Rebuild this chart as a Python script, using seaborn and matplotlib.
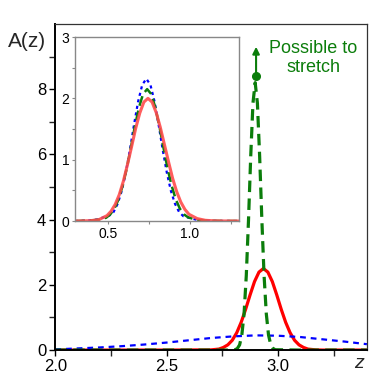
import numpy as np
import pandas as pd
import seaborn as sns
import matplotlib.pyplot as plt

# main panel data
red_x = [2.0, 2.5, 2.7, 2.735, 2.755, 2.775, 2.795, 2.815, 2.835, 2.855, 2.875, 2.895, 2.915, 2.935,
         2.955, 2.975, 2.995, 3.015, 3.035, 3.055, 3.075, 3.095, 3.115, 3.135, 3.17, 3.2, 3.4]
red_y = [0.0, 0.0, 0.006, 0.03, 0.08, 0.16, 0.30, 0.53, 0.85, 1.25, 1.69, 2.10, 2.39, 2.5,
         2.39, 2.10, 1.69, 1.25, 0.85, 0.53, 0.30, 0.16, 0.08, 0.03, 0.006, 0.0, 0.0]

green_x = [2.0, 2.7, 2.798, 2.808, 2.818, 2.828, 2.838, 2.848, 2.858, 2.868, 2.878, 2.888, 2.898,
           2.908, 2.918, 2.928, 2.938, 2.948, 2.958, 2.968, 2.978, 2.988, 3.1, 3.4]
green_y = [0.0, 0.0, 0.0, 0.01, 0.05, 0.16, 0.46, 1.11, 2.28, 3.99, 5.95, 7.57, 8.2,
           7.57, 5.95, 3.99, 2.28, 1.11, 0.46, 0.16, 0.05, 0.01, 0.0, 0.0]

blue_x = [2.0, 2.1, 2.2, 2.3, 2.4, 2.5, 2.6, 2.7, 2.8, 2.9, 3.0, 3.1, 3.2, 3.3, 3.4]
blue_y = [0.02, 0.05, 0.08, 0.12, 0.17, 0.23, 0.30, 0.37, 0.42, 0.45, 0.44, 0.40, 0.33, 0.26, 0.18]

# inset data
in_red_x = [0.3, 0.345, 0.395, 0.445, 0.495, 0.52, 0.545, 0.57, 0.595, 0.62, 0.645, 0.67, 0.695, 0.72,
            0.745, 0.77, 0.795, 0.82, 0.845, 0.87, 0.895, 0.92, 0.945, 0.97, 0.995, 1.045, 1.095,
            1.145, 1.2, 1.3]
in_red_y = [0.0, 0.002, 0.006, 0.022, 0.088, 0.16, 0.27, 0.43, 0.65, 0.92, 1.21, 1.51, 1.76, 1.94,
            2.0, 1.94, 1.77, 1.53, 1.25, 0.97, 0.70, 0.48, 0.31, 0.19, 0.11, 0.04, 0.012,
            0.004, 0.001, 0.0]

in_green_x = [0.3, 0.34, 0.39, 0.44, 0.49, 0.515, 0.54, 0.565, 0.59, 0.615, 0.64, 0.665, 0.69, 0.715,
              0.74, 0.765, 0.79, 0.815, 0.84, 0.865, 0.89, 0.915, 0.94, 0.965, 0.99, 1.04, 1.09,
              1.14, 1.2, 1.3]
in_green_y = [0.0, 0.003, 0.008, 0.02, 0.054, 0.108, 0.20, 0.35, 0.57, 0.85, 1.19, 1.54, 1.85, 2.07,
              2.15, 2.07, 1.85, 1.54, 1.19, 0.85, 0.57, 0.35, 0.20, 0.108, 0.06, 0.02, 0.008,
              0.003, 0.001, 0.0]

in_blue_x = [0.3, 0.335, 0.385, 0.435, 0.485, 0.51, 0.535, 0.56, 0.585, 0.61, 0.635, 0.66, 0.685, 0.71,
             0.735, 0.76, 0.785, 0.81, 0.835, 0.86, 0.885, 0.91, 0.935, 0.96, 0.985, 1.035, 1.085,
             1.135, 1.2, 1.3]
in_blue_y = [0.0, 0.004, 0.01, 0.025, 0.07, 0.09, 0.146, 0.28, 0.49, 0.79, 1.16, 1.57, 1.95, 2.22,
             2.32, 2.22, 1.95, 1.57, 1.16, 0.79, 0.49, 0.28, 0.146, 0.08, 0.06, 0.025, 0.01,
             0.004, 0.001, 0.0]

x_ticks = [2.0, 2.5, 3.0]
y_ticks = [0, 2, 4, 6, 8]
in_x_ticks = [0.5, 1.0]
in_y_ticks = [0, 1, 2, 3]

RED = '#ff0000'
GREEN = '#0b7d0b'
BLUE = '#0000ff'

sns.set_theme(style='ticks')
plt.rcParams['font.family'] = ['Liberation Sans', 'DejaVu Sans']

fig = plt.figure(figsize=(3.74, 3.74), dpi=100)
ax = fig.add_axes([0.148, 0.064, 0.833, 0.872])

sns.lineplot(x=red_x, y=red_y, ax=ax, color=RED, lw=2.3)
sns.lineplot(x=blue_x, y=blue_y, ax=ax, color=BLUE, lw=1.6, linestyle=(0, (2.6, 2.2)))
sns.lineplot(x=green_x, y=green_y, ax=ax, color=GREEN, lw=2.3, linestyle=(0, (3.6, 2.0)))

ax.set_xlim(2.0, 3.4)
ax.set_ylim(0, 10)
ax.set_xticks(x_ticks)
ax.set_xticklabels([f'{v:.1f}' for v in x_ticks])
ax.set_xticks([2.25, 2.75, 3.25], minor=True)
ax.set_yticks(y_ticks)
ax.set_yticks([1, 3, 5, 7, 9], minor=True)
ax.tick_params(axis='both', which='major', direction='out', length=4.5, width=1.0,
               labelsize=12, pad=2, colors='black')
ax.tick_params(axis='both', which='minor', direction='out', length=4.5, width=1.0)
ax.set_xlabel('')
ax.set_ylabel('')
for s in ['left', 'bottom']:
    ax.spines[s].set_linewidth(1.4)
    ax.spines[s].set_color('black')
for s in ['top', 'right']:
    ax.spines[s].set_linewidth(0.9)
    ax.spines[s].set_color('#333333')
    ax.spines[s].set_visible(True)

fig.text(0.072, 0.888, 'A(z)', fontsize=15, ha='center', va='center')
ax.text(3.365, -0.42, 'z', fontsize=14, style='italic', ha='center', va='center')

# "possible to stretch" marker
ax.plot([2.902], [8.39], 'o', color=GREEN, markersize=5.5)
ax.annotate('', xy=(2.902, 9.3), xytext=(2.902, 8.39),
            arrowprops=dict(arrowstyle='-|>', color=GREEN, lw=1.5, mutation_scale=10,
                            shrinkA=0, shrinkB=0))
ax.text(3.16, 8.95, 'Possible to\nstretch', color=GREEN, fontsize=13, ha='center',
        va='center', linespacing=1.2)

# inset
ins = fig.add_axes([0.2005, 0.409, 0.4385, 0.492])
sns.lineplot(x=in_blue_x, y=in_blue_y, ax=ins, color=BLUE, lw=1.6, linestyle=(0, (1.4, 1.6)))
sns.lineplot(x=in_green_x, y=in_green_y, ax=ins, color=GREEN, lw=1.8, linestyle=(0, (4, 2)))
sns.lineplot(x=in_red_x, y=in_red_y, ax=ins, color='#ff4c4c', lw=2.2, alpha=0.9)
ins.set_xlim(0.3, 1.3)
ins.set_ylim(0, 3)
ins.set_xticks(in_x_ticks)
ins.set_xticklabels([f'{v:.1f}' for v in in_x_ticks])
ins.set_xticks([0.75, 1.25], minor=True)
ins.set_yticks(in_y_ticks)
ins.set_yticks([0.5, 1.5, 2.5], minor=True)
ins.tick_params(axis='both', which='both', direction='out', length=2.5, width=0.8,
                labelsize=10, pad=1.5, color='#888888', labelcolor='black')
ins.set_xlabel('')
ins.set_ylabel('')
for s in ins.spines.values():
    s.set_visible(True)
    s.set_color('#888888')
    s.set_linewidth(1.0)
ins.set_facecolor('white')

plt.savefig('out.png', dpi=100)
plt.close()
